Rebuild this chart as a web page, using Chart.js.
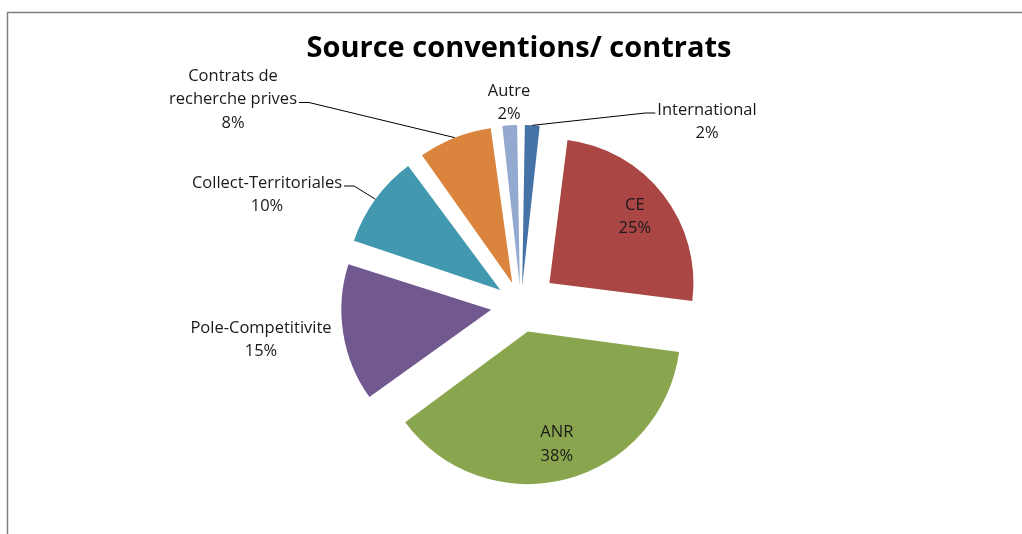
<!DOCTYPE html>
<html>
<head>
<meta charset="utf-8">
<script src="https://cdn.jsdelivr.net/npm/chart.js@4.4.0/dist/chart.umd.min.js"></script>
<style>
  html, body { margin: 0; padding: 0; background: #fff; }
  canvas { display: block; }
</style>
</head>
<body>
<canvas id="sourceChart" width="1022" height="534"></canvas>
<script>
// data (percent of conventions/contracts)
const categories = ['International', 'CE', 'ANR', 'Pole-Competitivite', 'Collect-Territoriales', 'Contrats de recherche prives', 'Autre'];
const percents = [2, 25, 38, 15, 10, 8, 2];
const sliceColors = ['#4572A7', '#AA4643', '#89A54E', '#71588F', '#4198AF', '#DB843D', '#93A9CF'];
const labelLines = [
    ['International', '2%'],
    ['CE', '25%'],
    ['ANR', '38%'],
    ['Pole-Competitivite', '15%'],
    ['Collect-Territoriales', '10%'],
    ['Contrats de', 'recherche prives', '8%'],
    ['Autre', '2%']
];

// where each label sits (outside ones are placed by hand like Excel does)
const labelPlace = [
    { x: 707, y: 110, leader: { line: 0, side: 'left' } },
    { inside: true },
    { inside: true },
    { x: 261, y: 328 },
    { x: 267, y: 183, leader: { line: 0, side: 'right' } },
    { x: 233, y: 76, leader: { line: 1, side: 'right' } },
    { x: 509, y: 91 }
];

const EXPLODE = 36;     // px each slice is pulled out
const RADIUS = 144;
const LINE_H = 23.5;
const total = percents.reduce((a, b) => a + b, 0);

// Chart.js shifts an arc by offset/4 * (1 + fix); invert that so all slices move EXPLODE px
function offsetFor(v) {
    const circ = v / total * Math.PI * 2;
    const fix = 1 - Math.sin(Math.min(Math.PI, circ));
    return EXPLODE * 4 / (1 + fix);
}

const labelPlugin = {
    id: 'excelLabels',
    afterDraw(chart) {
        const ctx = chart.ctx;
        const arcs = chart.getDatasetMeta(0).data;
        ctx.save();

        // chart frame (top + left border)
        ctx.strokeStyle = '#7f7f7f';
        ctx.lineWidth = 1.5;
        ctx.beginPath();
        ctx.moveTo(7.5, 534);
        ctx.lineTo(7.5, 12.5);
        ctx.lineTo(1022, 12.5);
        ctx.stroke();

        // title
        ctx.fillStyle = '#000';
        ctx.textAlign = 'center';
        ctx.textBaseline = 'middle';
        ctx.font = 'bold 29px "Open Sans"';
        ctx.fillText('Source conventions/ contrats', 519, 49);

        ctx.font = '16.5px "Open Sans"';
        ctx.fillStyle = '#1a1a1a';
        arcs.forEach((arc, i) => {
            const p = arc.getProps(['x', 'y', 'startAngle', 'endAngle', 'outerRadius'], true);
            const mid = (p.startAngle + p.endAngle) / 2;
            const dx = Math.cos(mid), dy = Math.sin(mid);
            const cx = p.x + dx * EXPLODE, cy = p.y + dy * EXPLODE;
            const lines = labelLines[i];
            const place = labelPlace[i];
            let lx, ly;
            if (place.inside) {
                lx = cx + dx * p.outerRadius * 0.75;
                ly = cy + dy * p.outerRadius * 0.75 - (lines.length - 1) * LINE_H / 2;
            } else {
                lx = place.x;
                ly = place.y;
            }
            lines.forEach((t, k) => ctx.fillText(t, lx, ly + k * LINE_H));

            if (place.leader) {
                const ex = cx + dx * p.outerRadius, ey = cy + dy * p.outerRadius;
                const w = ctx.measureText(lines[place.leader.line]).width;
                const sy = ly + place.leader.line * LINE_H + 3;
                const sx = place.leader.side === 'right' ? lx + w / 2 + 2 : lx - w / 2 - 2;
                const kx = place.leader.side === 'right' ? sx + 10 : sx - 10;
                ctx.strokeStyle = '#000';
                ctx.lineWidth = 1;
                ctx.beginPath();
                ctx.moveTo(sx, sy);
                ctx.lineTo(kx, sy);
                ctx.lineTo(ex, ey);
                ctx.stroke();
            }
        });
        ctx.restore();
    }
};

const ctx = document.getElementById('sourceChart');
new Chart(ctx, {
    type: 'pie',
    data: {
        labels: categories,
        datasets: [{
            data: percents,
            backgroundColor: sliceColors,
            borderWidth: 0,
            offset: percents.map(offsetFor),
            radius: RADIUS
        }]
    },
    options: {
        responsive: false,
        animation: false,
        events: [],
        layout: { padding: { left: 20, right: 0, top: 76, bottom: 0 } },
        plugins: {
            legend: { display: false },
            tooltip: { enabled: false },
            title: { display: false }
        }
    },
    plugins: [labelPlugin]
});
</script>
</body>
</html>
